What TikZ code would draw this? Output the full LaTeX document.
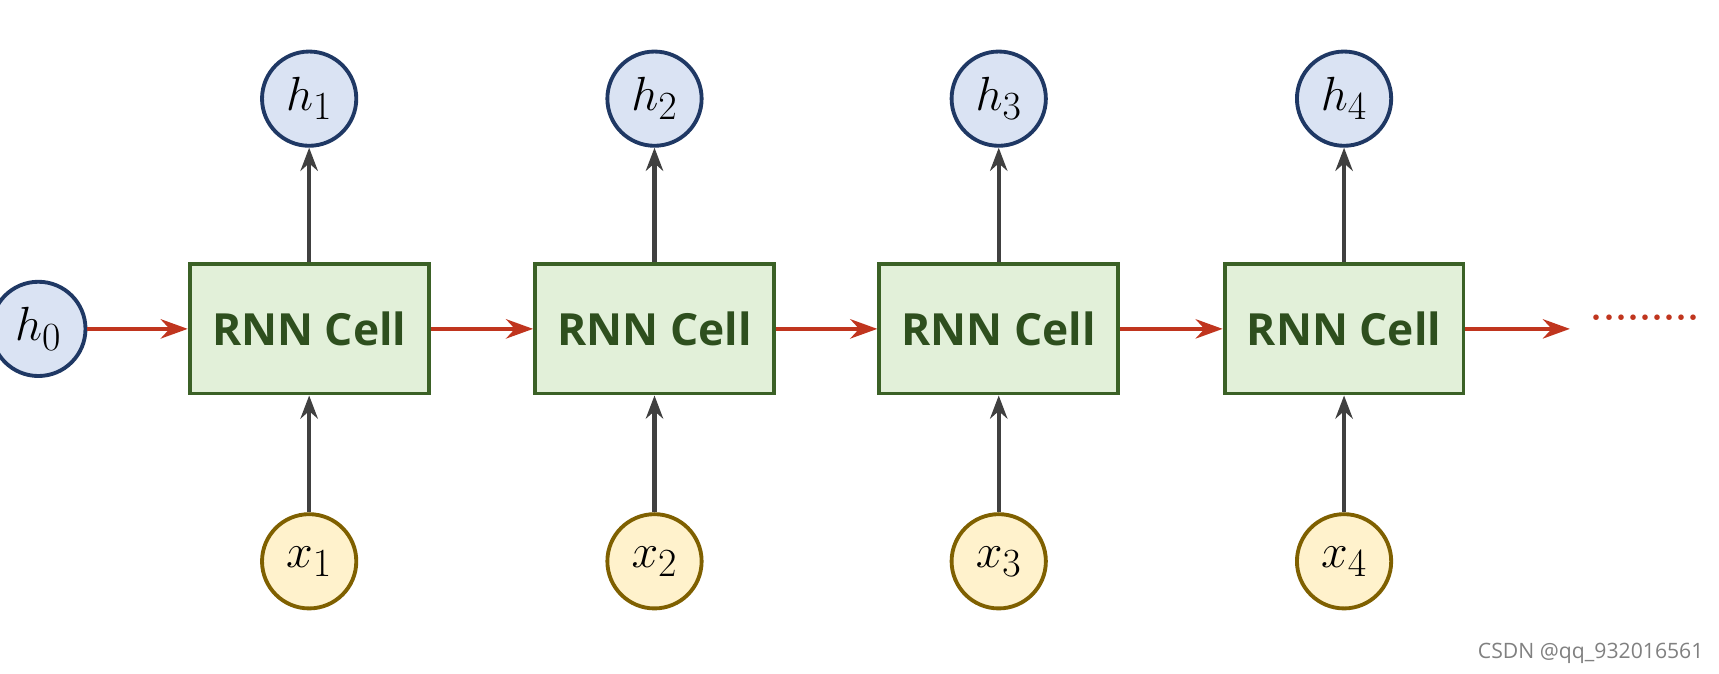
\documentclass[tikz,border=0pt]{standalone}
\usepackage{fontspec}
\setsansfont{Open Sans}
\usetikzlibrary{arrows.meta,positioning}
\definecolor{hfill}{HTML}{DAE3F3}
\definecolor{hdraw}{HTML}{1F3864}
\definecolor{cfill}{HTML}{E2F0D9}
\definecolor{cdraw}{HTML}{3B6126}
\definecolor{ctext}{HTML}{2E4F1E}
\definecolor{xfill}{HTML}{FFF2CC}
\definecolor{xdraw}{HTML}{7F6000}
\definecolor{redarr}{HTML}{C0351E}
\definecolor{grayarr}{HTML}{404040}
\tikzset{>=Stealth}
\begin{document}
\begin{tikzpicture}[x=0.02cm,y=-0.02cm,
    hstate/.style={circle,draw=hdraw,fill=hfill,line width=2pt,minimum size=1.72cm,inner sep=0pt,font=\fontsize{28}{32}\selectfont},
    xstate/.style={circle,draw=xdraw,fill=xfill,line width=2pt,minimum size=1.72cm,inner sep=0pt,font=\fontsize{28}{32}\selectfont},
    cell/.style={draw=cdraw,fill=cfill,line width=2pt,minimum width=4.36cm,minimum height=2.36cm,font=\sffamily\bfseries\fontsize{23}{27}\selectfont,text=ctext},
    up/.style={->,grayarr,line width=2.2pt,>={Stealth[length=12pt,width=9pt]}},
    rec/.style={->,redarr,line width=2.2pt,>={Stealth[length=14pt,width=10pt]}}]
    \useasboundingbox (0,0) rectangle (1568,614);
    \node[hstate] at (35,300) (h0) {$h_0$};
    \foreach \i/\px in {1/282,2/597,3/911,4/1226}{
        \node[cell] at (\px,300) (c\i) {RNN Cell};
        \node[hstate] at (\px,90) (h\i) {$h_\i$};
        \node[xstate] at (\px,512) (x\i) {$x_\i$};
        \draw[up] (c\i) -- (h\i);
        \draw[up] (x\i) -- (c\i);
    }
    \draw[rec] (h0) -- (c1);
    \draw[rec] (c1) -- (c2);
    \draw[rec] (c2) -- (c3);
    \draw[rec] (c3) -- (c4);
    \coordinate (dots) at (1432,300);
    \draw[rec] (c4) -- (dots);
    \node[text=redarr,font=\fontsize{20}{24}\selectfont,anchor=west] at (1445,290) (more) {\textbf{.........}};
    % watermark
    \node[text=gray,font=\sffamily\fontsize{11}{13}\selectfont,anchor=east] at (1560,596) (mark) {CSDN @qq\_932016561};
\end{tikzpicture}
\end{document}
